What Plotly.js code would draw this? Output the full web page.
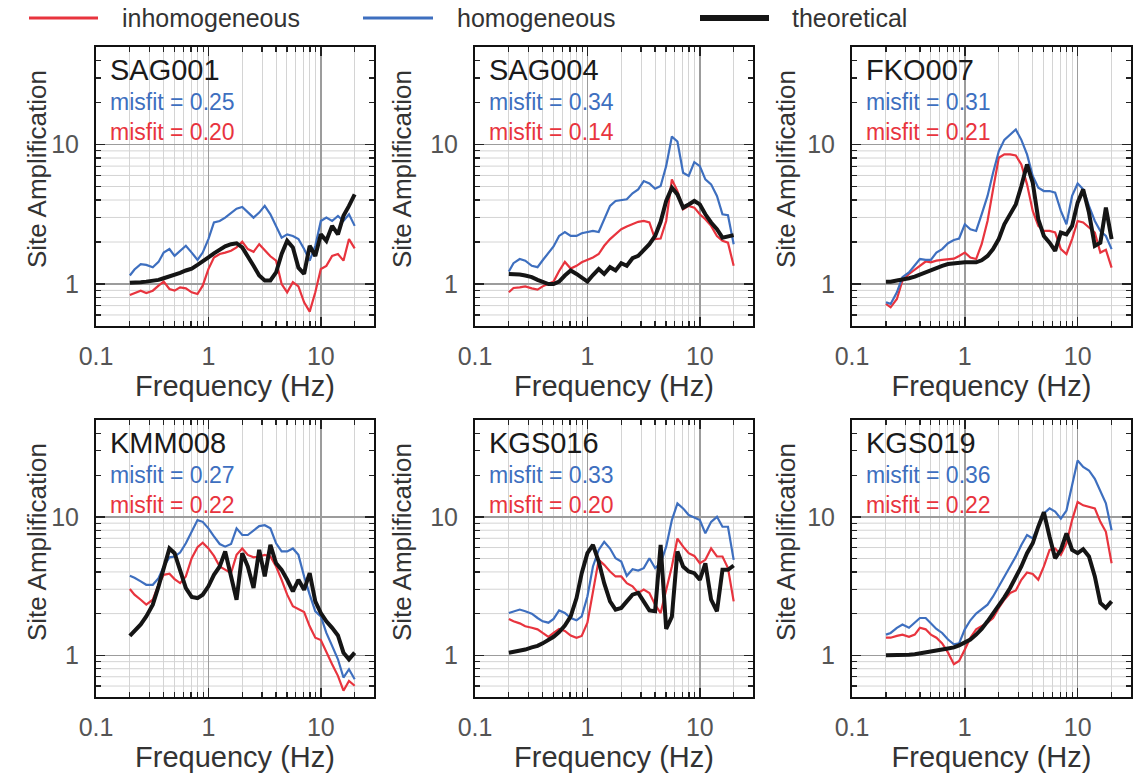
<!DOCTYPE html>
<html><head><meta charset="utf-8">
<script src="https://cdn.plot.ly/plotly-3.0.1.min.js"></script>
<style>html,body{margin:0;padding:0;background:#fff}#chart{width:1138px;height:773px}</style>
</head><body><div id="chart"></div>
<script>
// Frequency samples (Hz)
const freq = [0.2,0.22,0.25,0.28,0.32,0.36,0.4,0.45,0.5,0.56,0.63,0.71,0.8,0.89,1,1.12,1.26,1.41,1.59,1.78,2,2.24,2.52,2.83,3.17,3.56,4,4.48,5.02,5.64,6.32,7.1,7.96,8.93,10,11.2,12.6,14.2,15.9,17.8,20];

const stations = ['SAG001','SAG004','FKO007','KMM008','KGS016','KGS019'];
const misfitHom = [0.25,0.34,0.31,0.27,0.33,0.36];
const misfitInhom = [0.20,0.14,0.21,0.22,0.20,0.22];
const seriesNames = ['inhomogeneous','homogeneous','theoretical'];
const xTitle = 'Frequency (Hz)';
const yTitle = 'Site Amplification';

const sag001Inhom = [0.835,0.862,0.896,0.862,0.896,0.973,1.04,0.921,0.896,0.947,0.931,0.872,0.848,0.973,1.28,1.55,1.64,1.68,1.73,1.83,2.01,1.78,1.70,1.93,1.76,1.58,1.47,1.0,0.872,1.03,0.962,0.740,0.634,0.872,1.28,1.35,1.59,1.64,1.47,2.10,1.80];
const sag001Hom = [1.15,1.27,1.39,1.37,1.32,1.44,1.68,1.78,1.59,1.73,1.88,1.68,1.49,1.68,2.10,2.76,2.83,2.99,3.25,3.47,3.57,3.25,2.99,3.25,3.63,3.16,2.61,2.15,2.27,2.21,2.10,1.78,1.47,1.88,2.83,2.99,2.83,3.08,2.83,3.16,2.61];
const sag001Theo = [1.02,1.02,1.03,1.04,1.05,1.07,1.10,1.13,1.16,1.20,1.25,1.29,1.37,1.44,1.55,1.66,1.76,1.86,1.93,1.96,1.83,1.59,1.35,1.15,1.06,1.06,1.21,1.64,2.04,1.83,1.31,1.18,1.88,1.59,2.27,2.04,2.61,2.27,3.08,3.63,4.39];

const sag004Inhom = [0.872,0.936,0.947,0.962,0.931,0.911,0.962,1.0,1.04,1.24,1.44,1.29,1.35,1.43,1.49,1.55,1.64,1.88,2.10,2.27,2.47,2.58,2.68,2.79,2.83,2.76,2.10,2.12,2.83,5.62,4.64,3.43,3.63,3.53,3.16,2.91,2.61,2.21,2.04,1.98,1.35];
const sag004Hom = [1.23,1.41,1.51,1.47,1.35,1.32,1.48,1.68,1.86,2.21,2.36,2.21,2.21,2.31,2.36,2.40,2.36,2.91,3.63,3.94,4.00,4.05,4.47,4.77,5.47,5.26,4.82,5.04,7.00,11.4,10.5,6.28,5.95,7.47,7.00,5.62,5.18,4.28,3.16,3.11,1.93];
const sag004Theo = [1.18,1.18,1.17,1.15,1.12,1.07,1.03,1.0,1.0,1.04,1.15,1.25,1.18,1.10,1.04,1.16,1.28,1.18,1.32,1.25,1.41,1.35,1.53,1.59,1.76,1.93,2.21,2.79,3.94,4.90,4.39,3.53,3.72,3.94,3.72,3.16,2.76,2.47,2.15,2.19,2.24];

const fko007Inhom = [0.720,0.681,0.781,1.06,1.18,1.27,1.35,1.45,1.43,1.47,1.49,1.51,1.52,1.59,1.68,1.55,1.51,1.93,2.83,4.77,8.03,8.50,8.50,8.34,7.20,5.18,3.34,2.61,2.40,2.40,2.34,1.78,1.64,2.10,2.83,2.76,2.54,2.34,1.68,1.76,1.31];
const fko007Hom = [0.740,0.720,0.872,1.12,1.21,1.35,1.51,1.49,1.49,1.68,1.78,1.96,2.07,2.12,2.68,2.47,2.40,3.16,4.28,6.28,8.94,10.8,11.8,12.8,10.8,8.50,5.95,4.90,4.64,4.64,4.52,3.34,2.68,4.28,5.26,4.77,3.63,2.83,2.40,2.21,1.78];
const fko007Theo = [1.04,1.04,1.06,1.07,1.10,1.13,1.17,1.21,1.26,1.31,1.35,1.39,1.41,1.43,1.43,1.43,1.43,1.48,1.59,1.78,2.10,2.68,3.16,3.72,5.04,7.20,5.32,2.91,2.21,1.98,1.73,2.34,2.27,2.61,3.83,4.77,3.25,1.88,1.98,3.53,2.10];

const kmm008Inhom = [3.01,2.74,2.52,2.32,2.52,3.23,3.81,3.88,3.55,3.32,3.71,5.02,6.03,6.50,5.91,5.22,4.38,4.14,3.92,5.31,5.91,5.31,5.10,5.17,5.31,5.17,4.38,3.51,2.74,2.26,2.14,2.05,1.62,1.34,1.29,1.045,0.862,0.711,0.555,0.654,0.603];
const kmm008Hom = [3.75,3.63,3.42,3.23,3.23,3.61,4.38,5.10,5.17,5.52,6.44,7.8,9.47,9.2,8.25,7.22,6.36,6.09,6.36,8.25,7.39,7.39,7.93,8.57,8.70,8.25,6.44,5.62,5.62,5.91,5.31,3.71,2.74,2.08,1.91,1.45,1.17,0.936,0.691,0.793,0.672];
const kmm008Theo = [1.38,1.51,1.67,1.91,2.32,3.15,4.26,5.91,5.46,4.03,3.06,2.64,2.59,2.74,3.15,3.81,4.38,5.62,3.71,2.52,5.46,4.38,3.06,5.77,3.71,6.27,4.62,4.14,3.51,2.89,3.51,2.97,3.92,2.45,2.02,1.76,1.58,1.39,1.045,0.936,1.045];

const kgs016Inhom = [1.83,1.76,1.70,1.62,1.58,1.54,1.45,1.36,1.45,1.55,1.50,1.39,1.34,1.38,1.72,2.98,4.89,4.50,4.03,3.71,3.71,3.32,3.15,2.82,2.98,2.82,2.32,2.02,2.89,4.38,6.97,6.09,5.46,5.22,4.62,4.89,5.91,5.17,5.17,4.26,2.45];
const kgs016Hom = [2.02,2.08,2.14,2.08,2.0,1.86,1.76,1.72,1.83,2.11,2.02,1.86,1.79,1.91,2.66,4.38,5.77,6.6,5.9,5.02,4.75,3.75,4.18,4.09,4.26,5.02,4.26,4.62,6.09,9.47,12.5,11.5,10.3,9.9,9.47,7.6,9.2,10.0,8.48,8.48,4.89];
const kgs016Theo = [1.045,1.06,1.08,1.10,1.14,1.17,1.22,1.29,1.36,1.47,1.64,1.91,2.59,3.92,5.46,6.27,4.75,3.32,2.45,2.14,2.20,2.45,2.74,2.82,2.45,2.11,2.08,6.27,1.55,1.9,5.62,4.38,4.03,3.92,3.51,4.62,2.52,2.08,4.14,4.14,4.45];

const kgs019Inhom = [1.34,1.34,1.38,1.41,1.36,1.41,1.58,1.54,1.41,1.34,1.22,1.045,0.862,0.911,1.10,1.34,1.54,1.62,1.72,1.86,2.20,2.52,2.82,2.94,3.51,3.96,3.87,3.51,4.38,5.77,5.91,5.31,6.44,9.47,12.8,12.1,11.8,11.5,9.2,7.8,4.62];
const kgs019Hom = [1.41,1.45,1.58,1.67,1.58,1.71,1.86,1.86,1.70,1.55,1.45,1.30,1.20,1.22,1.54,1.79,2.0,2.14,2.32,2.66,3.15,3.71,4.38,5.16,6.26,7.39,6.97,8.55,10.6,11.5,10.9,9.7,11.1,16.9,25.5,22.9,21.6,18.8,15.1,12.5,8.0];
const kgs019Theo = [1.0,1.0,1.0,1.005,1.01,1.017,1.03,1.04,1.06,1.07,1.10,1.12,1.14,1.18,1.23,1.30,1.41,1.55,1.76,2.0,2.28,2.62,3.06,3.61,4.38,5.46,6.44,8.48,10.8,7.18,5.02,5.77,7.6,5.77,5.46,5.84,5.17,3.71,2.39,2.20,2.45];

// Axis tick values
const xMajor = [0.1,1,10];
const xMajorText = ['0.1','1','10'];
const xMinor = [0.2,0.3,0.4,0.5,0.6,0.7,0.8,0.9,2,3,4,5,6,7,8,9,20];
const yMajor = [1,10];
const yMajorText = ['1','10'];
const yMinor = [0.6,0.7,0.8,0.9,2,3,4,5,6,7,8,9,20,30,40];
const yMinorGrid = [0.6,0.7,0.8,0.9,2,3,4,5,6,7,8,9];

const inhomAll = [sag001Inhom,sag004Inhom,fko007Inhom,kmm008Inhom,kgs016Inhom,kgs019Inhom];
const homAll = [sag001Hom,sag004Hom,fko007Hom,kmm008Hom,kgs016Hom,kgs019Hom];
const theoAll = [sag001Theo,sag004Theo,fko007Theo,kmm008Theo,kgs016Theo,kgs019Theo];

const RED = '#e8343e', BLUE = '#3e6fbf', BLACK = '#151515';
const FONT = 'Liberation Sans, Arial, Helvetica, sans-serif';

const W = 1138, H = 773;
const colPx = [[96,374],[475,753],[852,1131]];
const rowPx = [[47,326],[420,697]];
const yTitleX = [37, 402, 786];

const data = [];
const layout = {
  width: W, height: H,
  margin: {l:0, r:0, t:0, b:0},
  paper_bgcolor: '#fff', plot_bgcolor: '#fff',
  showlegend: false,
  font: {family: FONT},
  shapes: [], annotations: []
};

for (let i = 0; i < 6; i++) {
  const n = i === 0 ? '' : String(i + 1);
  const r = Math.floor(i / 3), c = i % 3;
  const xa = 'x' + n, ya = 'y' + n;
  const styles = [[inhomAll[i], RED, 2.2], [homAll[i], BLUE, 2.2], [theoAll[i], BLACK, 4]];
  styles.forEach(([vals, col, w], s) => {
    data.push({type:'scatter', mode:'lines', x: freq, y: vals, xaxis: xa, yaxis: ya,
      name: seriesNames[s], line: {color: col, width: w}, hoverinfo:'skip'});
  });
  const xd = [colPx[c][0] / W, colPx[c][1] / W];
  const yd = [1 - rowPx[r][1] / H, 1 - rowPx[r][0] / H];
  layout['xaxis' + n] = {
    type:'log', range:[-1, 1.473], domain: xd, anchor: ya,
    tickmode:'array', tickvals: xMajor, ticktext: xMajorText,
    ticks:'inside', ticklen: 9, tickwidth: 1.5, tickcolor:'#222',
    showline: true, linecolor:'#111', linewidth: 2, mirror: 'ticks',
    showgrid: true, gridcolor:'#9c9c9c', gridwidth: 1.6, zeroline: false,
    tickfont: {size: 25, color:'#555', family: FONT}, ticklabelstandoff: 7,
    minor: {tickmode:'array', tickvals: xMinor, ticks:'inside', ticklen: 5, tickwidth: 1.2, tickcolor:'#222',
      showgrid: true, gridcolor:'#d4d4d4', gridwidth: 1},
    title: {text: xTitle, font:{size: 29, color:'#333', family: FONT}, standoff: 4},
    fixedrange: true
  };
  layout['yaxis' + n] = {
    type:'log', range:[-0.301, 1.699], domain: yd, anchor: xa,
    tickmode:'array', tickvals: yMajor, ticktext: yMajorText,
    ticks:'inside', ticklen: 9, tickwidth: 1.5, tickcolor:'#222',
    showline: true, linecolor:'#111', linewidth: 2, mirror: 'ticks',
    showgrid: true, gridcolor:'#9c9c9c', gridwidth: 1.6, zeroline: false,
    tickfont: {size: 25, color:'#555', family: FONT}, ticklabelstandoff: 10,
    minor: {tickmode:'array', tickvals: yMinor, ticks:'inside', ticklen: 5, tickwidth: 1.2, tickcolor:'#222', showgrid: false},
    fixedrange: true
  };
  yMinorGrid.forEach(v => layout.shapes.push({type:'line', layer:'below', xref: xa + ' domain', yref: ya,
    x0: 0, x1: 1, y0: v, y1: v, line: {color:'#d4d4d4', width: 1}}));
  const ph = rowPx[r][1] - rowPx[r][0];
  const xl = 12 / (colPx[c][1] - colPx[c][0]);
  layout.annotations.push(
    {xref: xa + ' domain', yref: ya + ' domain', x: xl, y: 1 - 23 / ph, xanchor:'left', yanchor:'middle', showarrow:false,
      text: stations[i], font: {size: 29, color:'#1a1a1a', family: FONT}},
    {xref: xa + ' domain', yref: ya + ' domain', x: xl, y: 1 - 70 / ph, xanchor:'left', yanchor:'middle', showarrow:false,
      align: 'left',
      text: '<span style="color:' + BLUE + '">misfit = ' + misfitHom[i].toFixed(2) + '</span><br>' +
            '<span style="color:' + RED + '">misfit = ' + misfitInhom[i].toFixed(2) + '</span>',
      font: {size: 23, color: BLUE, family: FONT}},
    {xref: 'paper', yref: 'paper', x: yTitleX[c] / W, y: 1 - (rowPx[r][0] + 122) / H, xanchor:'center', yanchor:'middle',
      showarrow:false, textangle: -90, text: yTitle, font: {size: 26, color:'#333', family: FONT}}
  );
}

// Top legend (line swatches + labels)
const legendItems = [[RED, 3, 29, 98, 120], [BLUE, 3, 363, 433, 455], [BLACK, 6, 700, 769, 790]];
legendItems.forEach(([col, w, x0, x1, tx], s) => {
  layout.shapes.push({type:'line', xref:'paper', yref:'paper', x0: x0 / W, x1: x1 / W, y0: 1 - 18 / H, y1: 1 - 18 / H,
    line: {color: col, width: w}});
  layout.annotations.push({xref:'paper', yref:'paper', x: tx / W, y: 1 - 18 / H, xanchor:'left', yanchor:'middle',
    showarrow:false, text: seriesNames[s], font: {size: 25, color:'#333', family: FONT}});
});

Plotly.newPlot('chart', data, layout, {displayModeBar: false, staticPlot: true});
</script></body></html>
